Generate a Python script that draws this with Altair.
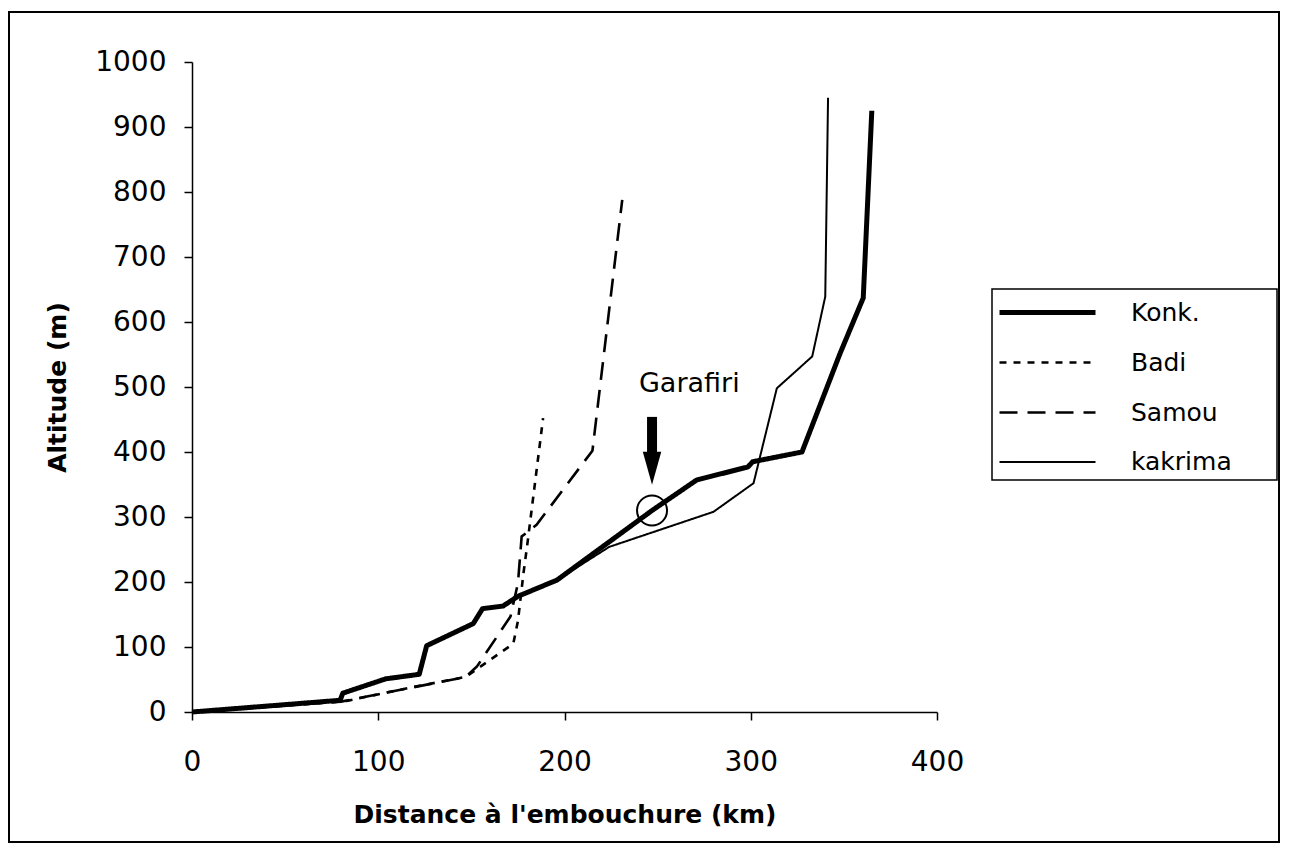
import altair as alt
import pandas as pd

# ---- data ----
konk_km = [0, 79.5, 81, 104, 122, 126, 151, 156, 167, 175, 196, 247, 271, 298.5, 301, 327.5, 348, 360.4, 365]
konk_alt = [0, 18, 29, 51, 58, 102, 136, 159, 163, 178, 203, 310, 357, 377, 385, 400, 552, 637, 925]

badi_km = [0, 80, 83, 118, 147, 165, 172.5, 175, 178, 180, 188.5]
badi_alt = [0, 16, 17, 38, 54, 90, 105, 140, 214, 257, 452]

samou_km = [0, 80, 147, 153, 171, 175, 177, 185, 215, 231]
samou_alt = [0, 16, 54, 70, 147, 198, 270, 288, 402, 788]

kakrima_km = [0, 79.5, 81, 104, 122, 126, 151, 156, 167, 175, 196, 224, 280, 301.5, 314, 333, 340, 341.5]
kakrima_alt = [0, 18, 29, 51, 58, 102, 136, 159, 163, 178, 203, 254, 308, 352, 498, 547, 639, 945]

series_names = ["Konk.", "Badi", "Samou", "kakrima"]
series_dash = [[1, 0], [7, 7], [18, 10], [1, 0]]
series_width = [5, 2.6, 2.6, 2]

x_ticks = [0, 100, 200, 300, 400]
y_ticks = [0, 100, 200, 300, 400, 500, 600, 700, 800, 900, 1000]

garafiri_km = 247
garafiri_alt = 310
arrow_top = 454
arrow_base = 400
arrow_head = 375
label_km = 267
label_alt = 505

FONT = "DejaVu Sans"

rows = []
for name, xs, ys in [("Konk.", konk_km, konk_alt), ("Badi", badi_km, badi_alt),
                     ("Samou", samou_km, samou_alt), ("kakrima", kakrima_km, kakrima_alt)]:
    for i, (xv, yv) in enumerate(zip(xs, ys)):
        rows.append({"series": name, "km": xv, "alt": yv, "ord": i})
df = pd.DataFrame(rows)

xscale = alt.Scale(domain=[0, 400], nice=False)
yscale = alt.Scale(domain=[0, 1000], nice=False)

# horizontal line symbol: 96 px long, small nominal size so rows stay compact
legend = alt.Legend(
    orient="none", legendX=841, legendY=236, title=None,
    symbolType="M-4,0L4,0", symbolSize=576, symbolStrokeColor="black",
    labelFontSize=25, labelFont=FONT, labelColor="black", labelOffset=69,
    rowPadding=23, padding=0,
)

x_enc = alt.X("km:Q", scale=xscale, axis=alt.Axis(
    values=x_ticks, title="Distance à l'embouchure  (km)", labelPadding=28,
    titlePadding=26, labelFlush=False, format="d"))
y_enc = alt.Y("alt:Q", scale=yscale, axis=alt.Axis(
    values=y_ticks, title="Altitude (m)", labelPadding=18, titlePadding=24, format="d"))

dash_enc = alt.StrokeDash("series:N", scale=alt.Scale(domain=series_names, range=series_dash), legend=legend)
width_enc = alt.StrokeWidth("series:N", scale=alt.Scale(type="ordinal", domain=series_names, range=series_width), legend=legend)

lines_other = alt.Chart(df).transform_filter(alt.datum.series != "Konk.").mark_line(
    color="black", strokeCap="butt", strokeJoin="miter"
).encode(x=x_enc, y=y_enc, strokeDash=dash_enc, strokeWidth=width_enc, order="ord:Q", detail="series:N")

lines_konk = alt.Chart(df).transform_filter(alt.datum.series == "Konk.").mark_line(
    color="black", strokeCap="butt", strokeJoin="round"
).encode(x=x_enc, y=y_enc, strokeDash=dash_enc, strokeWidth=width_enc, order="ord:Q", detail="series:N")

ann = pd.DataFrame({"km": [garafiri_km], "alt": [garafiri_alt], "top": [arrow_top],
                    "base": [arrow_base], "head": [arrow_head],
                    "lkm": [label_km], "lalt": [label_alt], "txt": ["Garafiri"]})

circle = alt.Chart(ann).mark_point(shape="circle", size=900, filled=False, color="black",
                                   strokeWidth=2, opacity=1).encode(
    x=alt.X("km:Q", scale=xscale), y=alt.Y("alt:Q", scale=yscale))
shaft = alt.Chart(ann).mark_rule(color="black", strokeWidth=10, strokeCap="butt").encode(
    x=alt.X("km:Q", scale=xscale), y=alt.Y("top:Q", scale=yscale), y2="base:Q")
head = alt.Chart(ann).mark_point(shape="M-0.56,-1L0.56,-1L0,1Z", size=1089, filled=True,
                                 color="black", opacity=1).encode(
    x=alt.X("km:Q", scale=xscale), y=alt.Y("head:Q", scale=yscale))
label = alt.Chart(ann).mark_text(font=FONT, fontSize=27, color="black", baseline="middle",
                                 align="center").encode(
    x=alt.X("lkm:Q", scale=xscale), y=alt.Y("lalt:Q", scale=yscale), text="txt:N")

frame = alt.Chart(ann).mark_rect(fill="transparent", stroke="black", strokeWidth=2).encode(
    x=alt.value(-183), x2=alt.value(1087), y=alt.value(-50), y2=alt.value(780))
legbox = alt.Chart(ann).mark_rect(fill="transparent", stroke="black", strokeWidth=1.5).encode(
    x=alt.value(800), x2=alt.value(1085), y=alt.value(227), y2=alt.value(418))

chart = alt.layer(frame, legbox, lines_other, lines_konk, circle, shaft, head, label).properties(
    width=745, height=650,
    autosize=alt.AutoSizeParams(type="none"),
    padding={"left": 184, "top": 54, "right": 344, "bottom": 132},
    background="white",
).configure_view(strokeWidth=0).configure_axis(
    domainColor="black", domainWidth=1.5, tickColor="black", tickWidth=1.5, tickSize=8,
    labelFont=FONT, labelFontSize=28, labelColor="black", grid=False,
    titleFont=FONT, titleFontSize=25, titleFontWeight="bold", titleColor="black",
)

chart.save("out.html", embed_options={"renderer": "svg", "actions": False})
